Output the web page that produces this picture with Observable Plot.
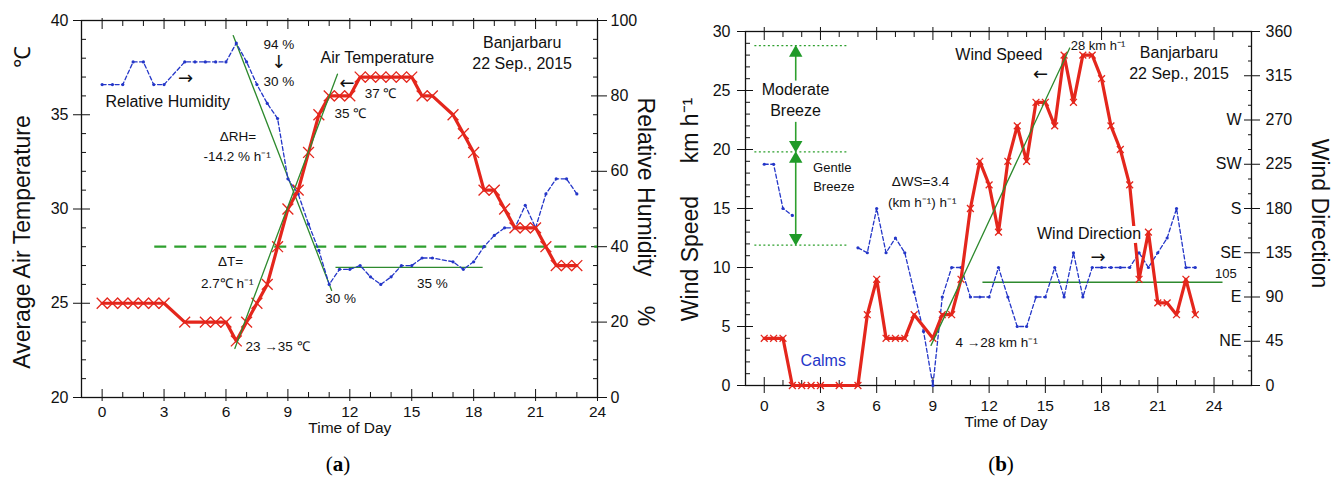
<!DOCTYPE html>
<html><head><meta charset="utf-8">
<script src="https://cdn.jsdelivr.net/npm/d3@7"></script>
<script src="https://cdn.jsdelivr.net/npm/@observablehq/plot@0.6"></script>
<style>
html,body{margin:0;padding:0;background:#fff;}
body{width:1339px;height:479px;position:relative;overflow:hidden;font-family:"Liberation Sans",Arial,sans-serif;}
#pa,#pb{position:absolute;top:0;}
#pa{left:0;width:669px;}
#pb{left:669px;width:670px;}
.cap{position:absolute;top:452px;width:80px;text-align:center;font-family:"Liberation Serif","Times New Roman",serif;font-size:21px;color:#000;}
</style></head><body>
<div id="pa"></div><div id="pb"></div>
<div class="cap" style="left:298px">(<b>a</b>)</div>
<div class="cap" style="left:961px">(<b>b</b>)</div>
<script>
// ---------- Data: panel (a) ----------
const hoursT = [0,0.5,1,1.5,2,2.5,3,4,5,5.5,6,6.5,7,7.5,8,8.5,9,9.5,10,10.5,11,11.5,12,12.5,13,13.5,14,14.5,15,15.5,16,17,17.5,18,18.5,19,19.5,20,20.5,21,21.5,22,22.5,23];
const airTemp = [25,25,25,25,25,25,25,24,24,24,24,23,24,25,26,28,30,31,33,35,36,36,36,37,37,37,37,37,37,36,36,35,34,33,31,31,30,29,29,29,28,27,27,27];
const hoursRH = [0,0.5,1,1.5,2,2.5,3,4,4.5,5,5.5,6,6.5,7,7.5,8,8.5,9,9.5,10,10.5,11,11.5,12,12.5,13,13.5,14,14.5,15,15.5,16,17,17.5,18,18.5,19,19.5,20,20.5,21,21.5,22,22.5,23];
const relHum = [83,83,83,89,89,83,83,89,89,89,89,89,94,89,83,78,74,58,54,46,39,30,34,34,35,32,30,32,35,35,37,37,36,34,36,40,43,45,45,51,45,54,58,58,54];
const timeTicks = [0,3,6,9,12,15,18,21,24];
const tempTicks = [20,25,30,35,40];
const rhTicks = [0,20,40,60,80,100];
// trend lines (a)
const tempTrend = [{h:6.43,v:22.6},{h:11.4,v:37.15}];
const rhTrend = [{h:6.35,v:96},{h:11.12,v:28.4}];
const rhMean = 34.5, tempRef = 28;

// ---------- Data: panel (b) ----------
const hoursWS = [0,0.5,1,1.5,2,2.5,3,4,5,5.5,6,6.5,7,7.5,8,9,9.5,10,10.5,11,11.5,12,12.5,13,13.5,14,14.5,15,15.5,16,16.5,17,17.5,18,18.5,19,19.5,20,20.5,21,21.5,22,22.5,23];
const windSpeed = [4,4,4,0,0,0,0,0,0,6,9,4,4,4,6,4,6,6,9,15,19,17,13,19,22,19,24,24,22,28,24,28,28,26,22,20,17,9,13,7,7,6,9,6];
const hoursWD = [0,0.5,1,1.5,2,5,5.5,6,6.5,7,7.5,8,8.5,9,9.5,10,10.5,11,11.5,12,12.5,13,13.5,14,14.5,15,15.5,16,16.5,17,17.5,18,18.5,19,19.5,20,20.5,21,21.5,22,22.5,23];
const windDir = [225,225,180,173,null,140,135,180,135,150,135,95,55,0,90,120,120,90,90,90,120,90,60,60,90,90,120,90,135,90,120,120,120,120,120,135,120,135,150,180,120,120];
const speedTicks = [0,5,10,15,20,25,30];
const dirTicks = [0,45,90,135,180,225,270,315,360];
const compass = [{d:45,n:"NE"},{d:90,n:"E"},{d:135,n:"SE"},{d:180,n:"S"},{d:225,n:"SW"},{d:270,n:"W"}];
const beaufort = [11.9, 19.8, 28.8];
const wsTrend = [{h:8.9,v:3.4},{h:16.3,v:28.6}];
const dirMean = 105;

// ---------- styles ----------
const FONT = "'Liberation Sans', Arial, sans-serif";
const ARROWFONT = "'DejaVu Sans', sans-serif";
const RED = "#e4261c", BLUE = "#2436c8", GREEN = "#2e8a2e", GREEN2 = "#2ea02e";

function frameAxesX(major, minor, o) {
  return [
    Plot.axisX(major, {anchor:"bottom", tickSize:o.out, tickPadding:o.pad, fontSize:15.5, label:null, tickFormat:d=>d}),
    Plot.axisX(major, {anchor:"bottom", tickSize:-o.inn, tickFormat:()=>"", label:null}),
    Plot.axisX(minor, {anchor:"bottom", tickSize:-5, tickFormat:()=>"", label:null}),
    Plot.axisX(major, {anchor:"top", tickSize:o.topOut, tickFormat:()=>"", label:null}),
    Plot.axisX(major, {anchor:"top", tickSize:-o.inn, tickFormat:()=>"", label:null}),
    Plot.axisX(minor, {anchor:"top", tickSize:-5, tickFormat:()=>"", label:null})
  ];
}

// ---------- panel (a) ----------
const rhY = r => 20 + r/5;
const T = hoursT.map((h,i)=>({h, v:airTemp[i]}));
const RH = hoursRH.map((h,i)=>({h, v:rhY(relHum[i])}));
const minorHours = d3.range(0,25).filter(d=>d%3);

const annAmid = [
 {x:8.56,y:38.73,t:"94 %",s:13.5},
 {x:8.56,y:36.73,t:"30 %",s:13.5},
 {x:13.33,y:38.02,t:"Air Temperature",s:16},
 {x:13.49,y:36.13,t:"37 ℃",s:13.5},
 {x:12.03,y:35.08,t:"35 ℃",s:13.5},
 {x:6.58,y:33.85,t:"ΔRH=",s:13.5},
 {x:6.54,y:32.75,t:"-14.2 % h⁻¹",s:13.5},
 {x:6.22,y:27.21,t:"ΔT=",s:13.5},
 {x:6.06,y:26.06,t:"2.7℃ h⁻¹",s:13.5},
 {x:11.55,y:25.24,t:"30 %",s:13.5},
 {x:16.0,y:26.03,t:"35 %",s:13.5},
 {x:20.35,y:38.8,t:"Banjarbaru",s:16},
 {x:20.35,y:37.7,t:"22 Sep., 2015",s:16}
];
const annAarrows = [
 {x:4.04,y:36.94,t:"→"},
 {x:8.56,y:37.79,t:"↓"},
 {x:11.87,y:36.66,t:"←"}
];
const annAstart = [
 {x:0.16,y:35.67,t:"Relative Humidity",s:16},
 {x:6.95,y:22.71,t:"23 →35 ℃",s:13.5}
];

const plotA = Plot.plot({
  width:669, height:479, marginLeft:81, marginRight:72, marginTop:20, marginBottom:82,
  style:{fontFamily:FONT, fontSize:"16px", background:"white", color:"#111", overflow:"visible"},
  x:{domain:[-1,24]},
  y:{domain:[20,40]},
  marks:[
    ...frameAxesX(timeTicks, minorHours, {out:4, pad:4, inn:8, topOut:3}),
    Plot.axisY(tempTicks, {anchor:"left", tickSize:8, tickPadding:5, fontSize:16, label:null}),
    Plot.axisY(tempTicks, {anchor:"left", tickSize:-9, tickFormat:()=>"", label:null}),
    Plot.axisY(d3.range(20,41).filter(d=>d%5), {anchor:"left", tickSize:-5, tickFormat:()=>"", label:null}),
    Plot.axisY(rhTicks.map(rhY), {anchor:"right", tickSize:9, tickPadding:4, fontSize:16, label:null, tickFormat:d=>Math.round((d-20)*5)}),
    Plot.axisY(rhTicks.map(rhY), {anchor:"right", tickSize:-7, tickFormat:()=>"", label:null}),
    Plot.axisY(d3.range(0,101,5).filter(d=>d%20).map(rhY), {anchor:"right", tickSize:-5, tickFormat:()=>"", label:null}),
    Plot.frame({stroke:"#111", strokeWidth:1.3}),
    // reference lines
    Plot.ruleY([tempRef], {x1:2.55, x2:24, stroke:GREEN2, strokeWidth:2.2, strokeDasharray:"12,8"}),
    Plot.ruleY([rhY(rhMean)], {x1:11.33, x2:18.46, stroke:GREEN, strokeWidth:1.3}),
    Plot.line(rhTrend, {x:"h", y:d=>rhY(d.v), stroke:GREEN, strokeWidth:1.3}),
    // RH
    Plot.line(RH, {x:"h", y:"v", stroke:BLUE, strokeWidth:1.3, strokeDasharray:"4,2.5"}),
    Plot.dot(RH, {x:"h", y:"v", r:1.6, fill:BLUE}),
    // Temperature
    Plot.line(T, {x:"h", y:"v", stroke:RED, strokeWidth:3.2}),
    Plot.dot(T, {x:"h", y:"v", symbol:"times", r:5, stroke:RED, strokeWidth:1.3}),
    Plot.line(tempTrend, {x:"h", y:"v", stroke:GREEN, strokeWidth:1.3}),
    // annotations
    Plot.text(annAmid, {x:"x", y:"y", text:"t", fontSize:"s", fill:"#111"}),
    Plot.text(annAarrows, {x:"x", y:"y", text:"t", fontSize:18, fontFamily:ARROWFONT, fill:"#111"}),
    Plot.text(annAstart, {x:"x", y:"y", text:"t", fontSize:"s", fill:"#111", textAnchor:"start"}),
    // axis titles
    Plot.text(["Average Air Temperature"], {frameAnchor:"left", textAnchor:"middle", dx:-59, dy:33, rotate:-90, fontSize:23, fill:"#111"}),
    Plot.text(["℃"], {frameAnchor:"left", textAnchor:"middle", dx:-59, dy:-152, rotate:-90, fontSize:22, fill:"#111"}),
    Plot.text(["Relative Humidity"], {frameAnchor:"right", textAnchor:"middle", dx:48, dy:-22, rotate:90, fontSize:23, fill:"#111"}),
    Plot.text(["%"], {frameAnchor:"right", textAnchor:"middle", dx:48, dy:107, rotate:90, fontSize:23, fill:"#111"}),
    Plot.text([{x:12, l:"Time of Day"}], {x:"x", text:"l", frameAnchor:"bottom", dy:35, fontSize:15.5, fill:"#111"})
  ]
});
document.getElementById("pa").appendChild(plotA);

// ---------- panel (b) ----------
const dY = d => d/12;
const WS = hoursWS.map((h,i)=>({h, v:windSpeed[i]}));
const WD = hoursWD.map((h,i)=>({h, v: windDir[i]==null ? null : dY(windDir[i])}));
const minorHoursB = d3.range(-1,27).filter(d=>d%3);

const arrowShafts = [{x:1.68,y1:25.8,y2:28.2},{x:1.68,y1:22.3,y2:20.4},{x:1.68,y1:12.5,y2:19.2}];
const arrowHeads = [{x:1.68,y:28.2,r:0},{x:1.68,y:20.4,r:180},{x:1.68,y:19.2,r:0},{x:1.68,y:12.5,r:180}];

const annBmid = [
 {x:1.67,y:25.04,t:"Moderate",s:16},
 {x:1.67,y:23.27,t:"Breeze",s:16},
 {x:3.63,y:18.42,t:"Gentle",s:13},
 {x:3.71,y:16.84,t:"Breeze",s:13},
 {x:8.34,y:17.3,t:"ΔWS=3.4",s:13.5},
 {x:8.43,y:15.5,t:"(km h⁻¹) h⁻¹",s:13.5},
 {x:12.52,y:28.06,t:"Wind Speed",s:16},
 {x:22.13,y:28.2,t:"Banjarbaru",s:16},
 {x:22.13,y:26.42,t:"22 Sep., 2015",s:16},
 {x:24.63,y:9.5,t:"105",s:13}
];
const annBarrows = [
 {x:14.75,y:26.42,t:"←"},
 {x:17.81,y:10.85,t:"→"}
];
const annBstart = [
 {x:10.21,y:3.66,t:"4 →28 km h⁻¹",s:13.5},
 {x:16.35,y:28.76,t:"28 km h⁻¹",s:13}
];

const plotB = Plot.plot({
  width:670, height:479, marginLeft:76, marginRight:88, marginTop:31, marginBottom:94,
  style:{fontFamily:FONT, fontSize:"16px", background:"white", color:"#111", overflow:"visible"},
  x:{domain:[-1,26]},
  y:{domain:[0,30]},
  marks:[
    ...frameAxesX(timeTicks, minorHoursB, {out:8, pad:6, inn:8, topOut:5}),
    Plot.axisY(speedTicks, {anchor:"left", tickSize:8, tickPadding:7, fontSize:16, label:null}),
    Plot.axisY(speedTicks, {anchor:"left", tickSize:-8, tickFormat:()=>"", label:null}),
    Plot.axisY(d3.range(0,31).filter(d=>d%5), {anchor:"left", tickSize:-5, tickFormat:()=>"", label:null}),
    Plot.axisY(dirTicks.map(dY), {anchor:"right", tickSize:8, tickPadding:6, fontSize:16, label:null, tickFormat:d=>Math.round(d*12)}),
    Plot.axisY(dirTicks.map(dY), {anchor:"right", tickSize:-8, tickFormat:()=>"", label:null}),
    Plot.axisY(d3.range(0,361,15).filter(d=>d%45).map(dY), {anchor:"right", tickSize:-4, tickFormat:()=>"", label:null}),
    Plot.text(compass, {y:d=>dY(d.d), text:"n", frameAnchor:"right", dx:-10, textAnchor:"end", fontSize:16, fill:"#111"}),
    Plot.frame({stroke:"#111", strokeWidth:1.3}),
    // Beaufort classes
    Plot.ruleY(beaufort, {x1:-0.5, x2:4.5, stroke:GREEN2, strokeWidth:1.3, strokeDasharray:"2,2.5"}),
    Plot.ruleX(arrowShafts, {x:"x", y1:"y1", y2:"y2", stroke:GREEN2, strokeWidth:1.6}),
    Plot.dot(arrowHeads, {x:"x", y:"y", symbol:"triangle", rotate:"r", r:5, fill:"#1f9a28", stroke:"none"}),
    // reference lines
    Plot.ruleY([dY(dirMean)], {x1:11.67, x2:24.48, stroke:GREEN, strokeWidth:1.3}),
    // wind direction
    Plot.line(WD, {x:"h", y:"v", stroke:BLUE, strokeWidth:1.3, strokeDasharray:"4,2.5"}),
    Plot.dot(WD.filter(d=>d.v!=null), {x:"h", y:"v", r:1.6, fill:BLUE}),
    // wind speed
    Plot.line(WS, {x:"h", y:"v", stroke:RED, strokeWidth:3.2}),
    Plot.dot(WS, {x:"h", y:"v", symbol:"times", r:3.2, stroke:RED, strokeWidth:1.3}),
    Plot.line(wsTrend, {x:"h", y:"v", stroke:GREEN, strokeWidth:1.3}),
    // annotations
    Plot.text(annBmid, {x:"x", y:"y", text:"t", fontSize:"s", fill:"#111"}),
    Plot.text(annBarrows, {x:"x", y:"y", text:"t", fontSize:18, fontFamily:ARROWFONT, fill:"#111"}),
    Plot.text(annBstart, {x:"x", y:"y", text:"t", fontSize:"s", fill:"#111", textAnchor:"start"}),
    Plot.text([{x:3.15,y:2.12,t:"Calms"}], {x:"x", y:"y", text:"t", fontSize:16, fill:BLUE}),
    Plot.text([{x:17.33,y:12.83,t:"Wind Direction"}], {x:"x", y:"y", text:"t", fontSize:16, fill:"#111", stroke:"white", strokeWidth:8}),
    // axis titles
    Plot.text(["Wind Speed"], {frameAnchor:"left", textAnchor:"middle", dx:-55, dy:50, rotate:-90, fontSize:23, fill:"#111"}),
    Plot.text(["km h⁻¹"], {frameAnchor:"left", textAnchor:"middle", dx:-55, dy:-78, rotate:-90, fontSize:23, fill:"#111"}),
    Plot.text(["Wind Direction"], {frameAnchor:"right", textAnchor:"middle", dx:68, dy:5, rotate:90, fontSize:23, fill:"#111"}),
    Plot.text([{x:12.9, l:"Time of Day"}], {x:"x", text:"l", frameAnchor:"bottom", dy:41, fontSize:15.5, fill:"#111"})
  ]
});
document.getElementById("pb").appendChild(plotB);
</script>
</body></html>
